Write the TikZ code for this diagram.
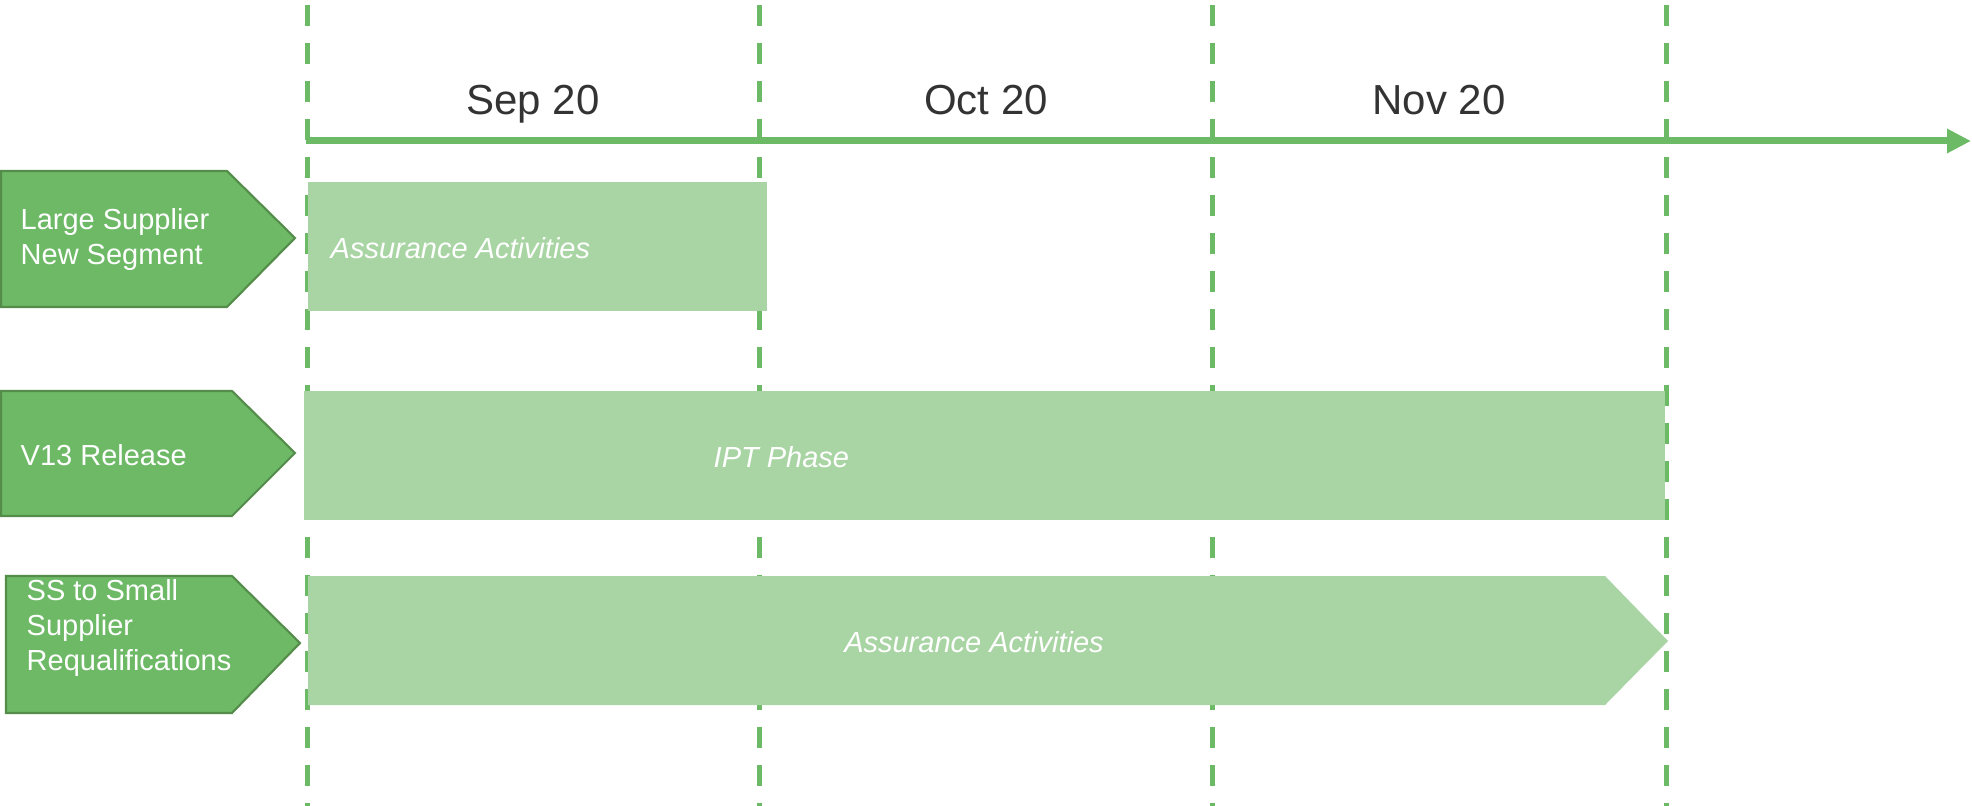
\documentclass[tikz,border=0pt]{standalone}
\usepackage{fontspec}
\setmainfont{Liberation Sans}
\usetikzlibrary{arrows.meta}
\definecolor{linegreen}{RGB}{108,186,102}
\definecolor{labelgreen}{RGB}{109,185,102}
\definecolor{edgegreen}{RGB}{84,140,74}
\definecolor{bargreen}{RGB}{169,213,164}
\definecolor{monthgray}{RGB}{51,51,51}
\begin{document}
\begin{tikzpicture}[
  month/.style={text=monthgray, inner sep=0pt, anchor=base, font=\fontsize{11.95}{14}\selectfont},
  rowlabel/.style={fill=labelgreen, draw=edgegreen, line width=0.6pt},
  rowtext/.style={text=white, anchor=west, align=left, inner sep=0pt,
    font=\fontsize{8.25}{9.96}\selectfont},
  bar/.style={fill=bargreen},
  bartext/.style={text=white, inner sep=0pt, font=\fontsize{8.25}{9.96}\selectfont\itshape}]
  \useasboundingbox (0,0) rectangle (19.72,-8.06);
  % month separators
  \foreach \x in {3.07,7.59,12.12,16.66}
    \draw[linegreen, line width=0.05cm, dash pattern=on 0.21cm off 0.17cm] (\x,-0.05) -- (\x,-8.06);
  % time axis
  \coordinate (axisstart) at (3.06,-1.41);
  \coordinate (axisend) at (19.71,-1.41);
  \draw[linegreen, line width=0.07cm, -{Triangle[length=0.24cm,width=0.23cm]}] (axisstart) -- (axisend);
  \node[month] (sep) at (5.33,-1.15) {Sep 20};
  \node[month] (oct) at (9.86,-1.15) {Oct 20};
  \node[month] (nov) at (14.39,-1.15) {Nov 20};
  % bars
  \fill[bar] (3.08,-1.82) rectangle (7.67,-3.11);
  \node[bartext, anchor=west] (assure1) at (3.30,-2.48) {Assurance Activities};
  \fill[bar] (3.04,-3.91) rectangle (16.65,-5.20);
  \node[bartext, anchor=west] (ipt) at (7.13,-4.57) {IPT Phase};
  \fill[bar] (3.08,-5.76) -- (16.05,-5.76) -- (16.68,-6.41) -- (16.05,-7.05) -- (3.08,-7.05) -- cycle;
  \node[bartext] (assure3) at (9.74,-6.42) {Assurance Activities};
  % row labels
  \draw[rowlabel] (0.01,-1.71) -- (2.27,-1.71) -- (2.95,-2.38) -- (2.27,-3.07) -- (0.01,-3.07) -- cycle;
  \node[rowtext] (large) at (0.20,-2.40) {Large Supplier\\New Segment};
  \draw[rowlabel] (0.01,-3.91) -- (2.32,-3.91) -- (2.95,-4.53) -- (2.32,-5.16) -- (0.01,-5.16) -- cycle;
  \node[rowtext] (v13) at (0.20,-4.55) {V13 Release};
  \draw[rowlabel] (0.06,-5.76) -- (2.32,-5.76) -- (3.00,-6.43) -- (2.32,-7.13) -- (0.06,-7.13) -- cycle;
  \node[rowtext] (small) at (0.26,-6.28) {SS to Small\\Supplier\\Requalifications};
\end{tikzpicture}
\end{document}
